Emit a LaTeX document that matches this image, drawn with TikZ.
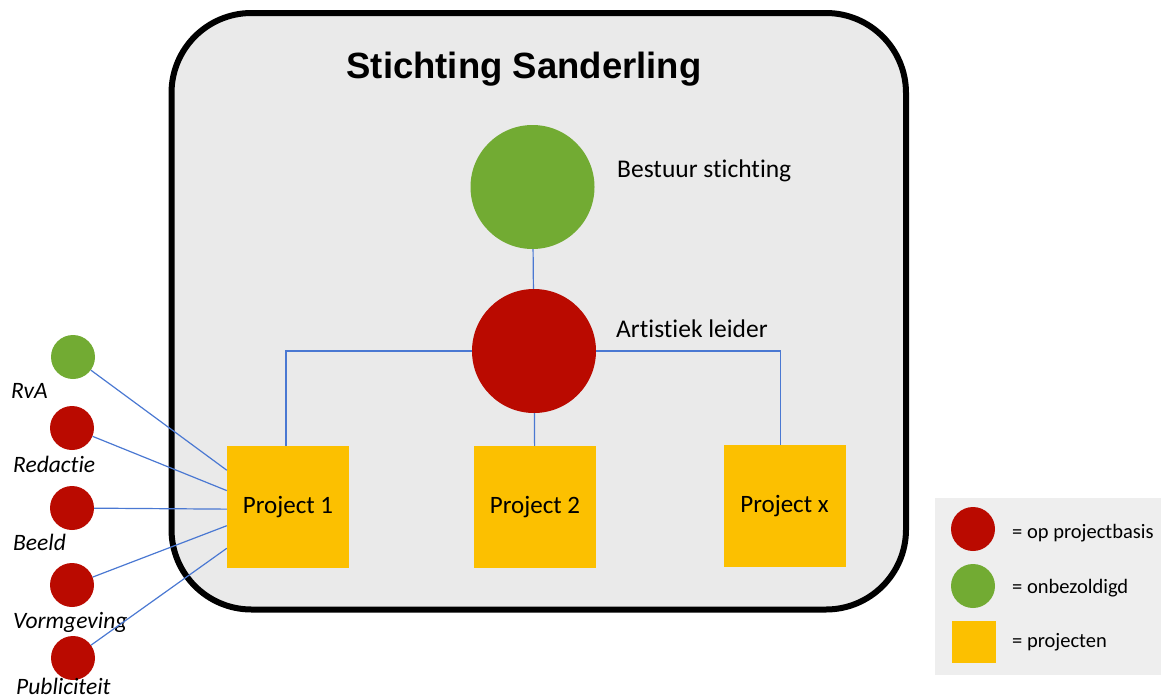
\documentclass[tikz,border=0pt]{standalone}
\usepackage{fontspec}
\setmainfont{Carlito}[Ligatures=NoCommon]
\newfontfamily\titlefont{Liberation Sans}
\usepackage{xcolor}
\usetikzlibrary{positioning, calc}

\definecolor{boxgray}{HTML}{EAEAEA}
\definecolor{legendgray}{HTML}{EEEEEE}
\definecolor{unpaid}{HTML}{72AB33}
\definecolor{paid}{HTML}{BA0A00}
\definecolor{project}{HTML}{FCC000}
\definecolor{wire}{HTML}{4A78D2}

\begin{document}
\begin{tikzpicture}[x=1pt, y=-1pt,
    dot/.style={circle, inner sep=0pt, minimum size=#1, draw=none},
    projbox/.style={rectangle, inner sep=0pt, minimum size=122, fill=project, font=\fontsize{25}{30}\selectfont},
    lbl/.style={anchor=base west, inner sep=0pt, font=\fontsize{25.5}{30}\selectfont},
    rolelbl/.style={anchor=base west, inner sep=0pt, font=\fontsize{23.5}{28}\selectfont\itshape},
    keylbl/.style={anchor=base west, inner sep=0pt, font=\fontsize{20.5}{24}\selectfont},
    wire/.style={draw=wire, line width=1.2pt}]
    \useasboundingbox (0,0) rectangle (1161,699);

    % stichting
    \draw[line width=6pt, rounded corners=80pt, fill=boxgray] (171.5,13) rectangle (906,609.5);
    \node[anchor=base, inner sep=0pt, font=\titlefont\fontsize{36.5}{40}\selectfont\bfseries] (title) at (524,78) {Stichting Sanderling};

    \node[dot=124, fill=unpaid] (bestuur) at (532.5,187) {};
    \node[dot=124, fill=paid]   (leider)  at (534,351) {};
    \node[lbl] (bestuurlbl) at (617,177) {Bestuur stichting};
    \node[lbl] (leiderlbl)  at (616,337) {Artistiek leider};

    \node[projbox] (p1) at (288,507)   {Project 1};
    \node[projbox] (p2) at (535,507)   {Project 2};
    \node[projbox] (px) at (784.5,506) {Project x};

    \draw[wire] (bestuur) -- (leider);
    \draw[wire] (leider) -- (p2);
    \draw[wire] (leider.west) -| ($(p1.north)+(-2,0)$);
    \draw[wire] (leider.east) -| ($(px.north)+(-4,0)$);

    % rollen per project
    \node[dot=44, fill=unpaid] (rva)   at (73,357) {};
    \node[dot=44, fill=paid]   (red)   at (72,428) {};
    \node[dot=44, fill=paid]   (beeld) at (72,508) {};
    \node[dot=44, fill=paid]   (vorm)  at (72,585) {};
    \node[dot=44, fill=paid]   (publ)  at (73,658) {};

    \node[rolelbl] (rvalbl)   at (11,398) {RvA};
    \node[rolelbl] (redlbl)   at (13,472) {Redactie};
    \node[rolelbl] (beeldlbl) at (13,550) {Beeld};
    \node[rolelbl] (vormlbl)  at (13,628) {Vormgeving};
    \node[rolelbl] (publlbl)  at (16,694) {Publiciteit};

    \draw[wire] (rva)   -- (p1.149);
    \draw[wire] (red)   -- (p1.165);
    \draw[wire] (beeld) -- (p1.182);
    \draw[wire] (vorm)  -- (p1.197);
    \draw[wire] (publ)  -- (p1.214);

    % legenda
    \fill[legendgray] (935,498) rectangle (1161,675);
    \node[dot=44, fill=paid]   (keypaid)   at (973,529) {};
    \node[dot=44, fill=unpaid] (keyunpaid) at (973,586) {};
    \node[rectangle, inner sep=0pt, minimum width=44, minimum height=42, fill=project] (keyproj) at (974,642) {};
    \node[keylbl] (keypaidlbl)   at (1012,538) {= op projectbasis};
    \node[keylbl] (keyunpaidlbl) at (1012,593) {= onbezoldigd};
    \node[keylbl] (keyprojlbl)   at (1012,647) {= projecten};
\end{tikzpicture}
\end{document}
